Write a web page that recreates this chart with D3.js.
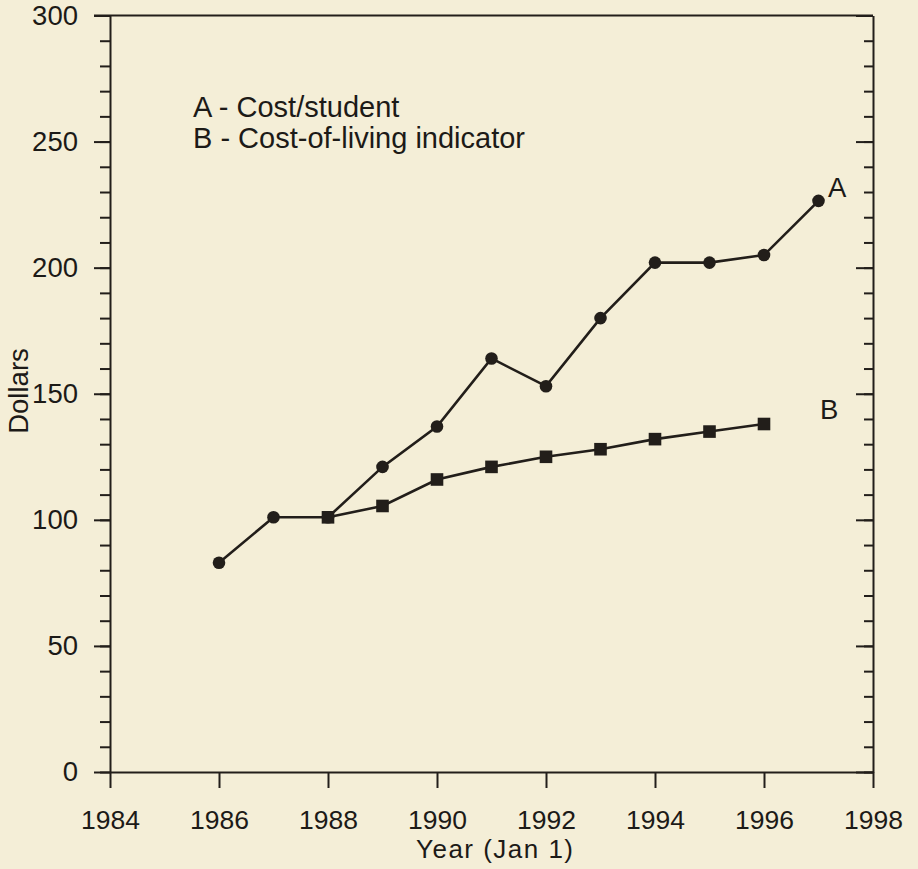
<!DOCTYPE html>
<html>
<head>
<meta charset="utf-8">
<script src="https://cdn.jsdelivr.net/npm/d3@7"></script>
<style>
  html, body { margin: 0; padding: 0; background: #f4eed7; }
  svg { display: block; }
  text { font-family: "Liberation Sans", Arial, Helvetica, sans-serif; fill: #1c1a17; }
</style>
</head>
<body>
<svg id="chart" width="918" height="869"></svg>
<script>
// ---- Data ----
const yearsA = [1986, 1987, 1988, 1989, 1990, 1991, 1992, 1993, 1994, 1995, 1996, 1997];
const costPerStudent = [83, 101, 101, 121, 137, 164, 153, 180, 202, 202, 205, 226.5];
const yearsB = [1988, 1989, 1990, 1991, 1992, 1993, 1994, 1995, 1996];
const costOfLiving = [101, 105.5, 116, 121, 125, 128, 132, 135, 138];
const xTicks = [1984, 1986, 1988, 1990, 1992, 1994, 1996, 1998];
const yTicks = [0, 50, 100, 150, 200, 250, 300];
const yMinorTicks = d3.range(0, 301, 10);
const legendLines = ["A - Cost/student", "B - Cost-of-living indicator"];
const seriesLabels = ["A", "B"];

// ---- Layout ----
const svg = d3.select("#chart");
const ink = "#221e1a";
const mLeft = 110, mRight = 873, mTop = 15.5, mBottom = 772;
const x = d3.scaleLinear().domain([1984, 1998]).range([mLeft, mRight]);
const y = d3.scaleLinear().domain([0, 300]).range([mBottom, mTop]);

function styleAxis(size) {
  return g => {
    g.selectAll("path, line").attr("stroke", ink).attr("stroke-width", 2);
    g.selectAll("text").attr("fill", "#1c1a17").style("font-size", size + "px")
      .style("font-family", '"Liberation Sans", Arial, sans-serif');
  };
}

// left minor ticks
svg.append("g").attr("transform", `translate(${mLeft},0)`)
  .call(d3.axisLeft(y).tickValues(yMinorTicks).tickSize(10).tickFormat(""))
  .call(g => g.select(".domain").remove()).call(styleAxis(27));
// left major
svg.append("g").attr("transform", `translate(${mLeft},0)`)
  .call(d3.axisLeft(y).tickValues(yTicks).tickSize(16).tickSizeOuter(0).tickPadding(16).tickFormat(d3.format("d")))
  .call(styleAxis(27.5));
// right minor + major (pointing inward)
svg.append("g").attr("transform", `translate(${mRight},0)`)
  .call(d3.axisLeft(y).tickValues(yMinorTicks).tickSize(9).tickFormat(""))
  .call(g => g.select(".domain").remove()).call(styleAxis(27));
svg.append("g").attr("transform", `translate(${mRight},0)`)
  .call(d3.axisLeft(y).tickValues(yTicks).tickSize(17).tickSizeOuter(0).tickFormat(""))
  .call(styleAxis(27));
// bottom
svg.append("g").attr("transform", `translate(0,${mBottom})`)
  .call(d3.axisBottom(x).tickValues(xTicks).tickSize(16).tickSizeOuter(0).tickPadding(22).tickFormat(d3.format("d")))
  .call(styleAxis(26.5));
// top border
svg.append("line").attr("x1", mLeft - 16).attr("x2", mRight).attr("y1", mTop).attr("y2", mTop)
  .attr("stroke", ink).attr("stroke-width", 2);

// axis titles
svg.append("text").attr("x", 416).attr("y", 858)
  .attr("textLength", 157).attr("lengthAdjust", "spacing")
  .style("font-size", "26px").text("Year (Jan 1)");
svg.append("text").attr("transform", "translate(28,391) rotate(-90)").attr("text-anchor", "middle")
  .style("font-size", "27.5px").text("Dollars");

// legend text
svg.selectAll("text.legend").data(legendLines).join("text").attr("class", "legend")
  .attr("x", 193).attr("y", (d, i) => 117 + i * 31).style("font-size", "29px").text(d => d);

// series
const line = d3.line().x(d => x(d[0])).y(d => y(d[1]));
const dataA = yearsA.map((yr, i) => [yr, costPerStudent[i]]);
const dataB = yearsB.map((yr, i) => [yr, costOfLiving[i]]);

svg.append("path").datum(dataA).attr("d", line).attr("fill", "none").attr("stroke", ink).attr("stroke-width", 2.6);
svg.append("path").datum(dataB).attr("d", line).attr("fill", "none").attr("stroke", ink).attr("stroke-width", 2.6);

svg.selectAll("circle.a").data(dataA).join("circle").attr("class", "a")
  .attr("cx", d => x(d[0])).attr("cy", d => y(d[1])).attr("r", 6.3).attr("fill", ink);
svg.selectAll("rect.b").data(dataB).join("rect").attr("class", "b")
  .attr("x", d => x(d[0]) - 6.3).attr("y", d => y(d[1]) - 6.3).attr("width", 12.6).attr("height", 12.6).attr("fill", ink);

// series labels
svg.append("text").attr("x", 828).attr("y", 197).style("font-size", "27.5px").text(seriesLabels[0]);
svg.append("text").attr("x", 820).attr("y", 419).style("font-size", "27.5px").text(seriesLabels[1]);
</script>
</body>
</html>
